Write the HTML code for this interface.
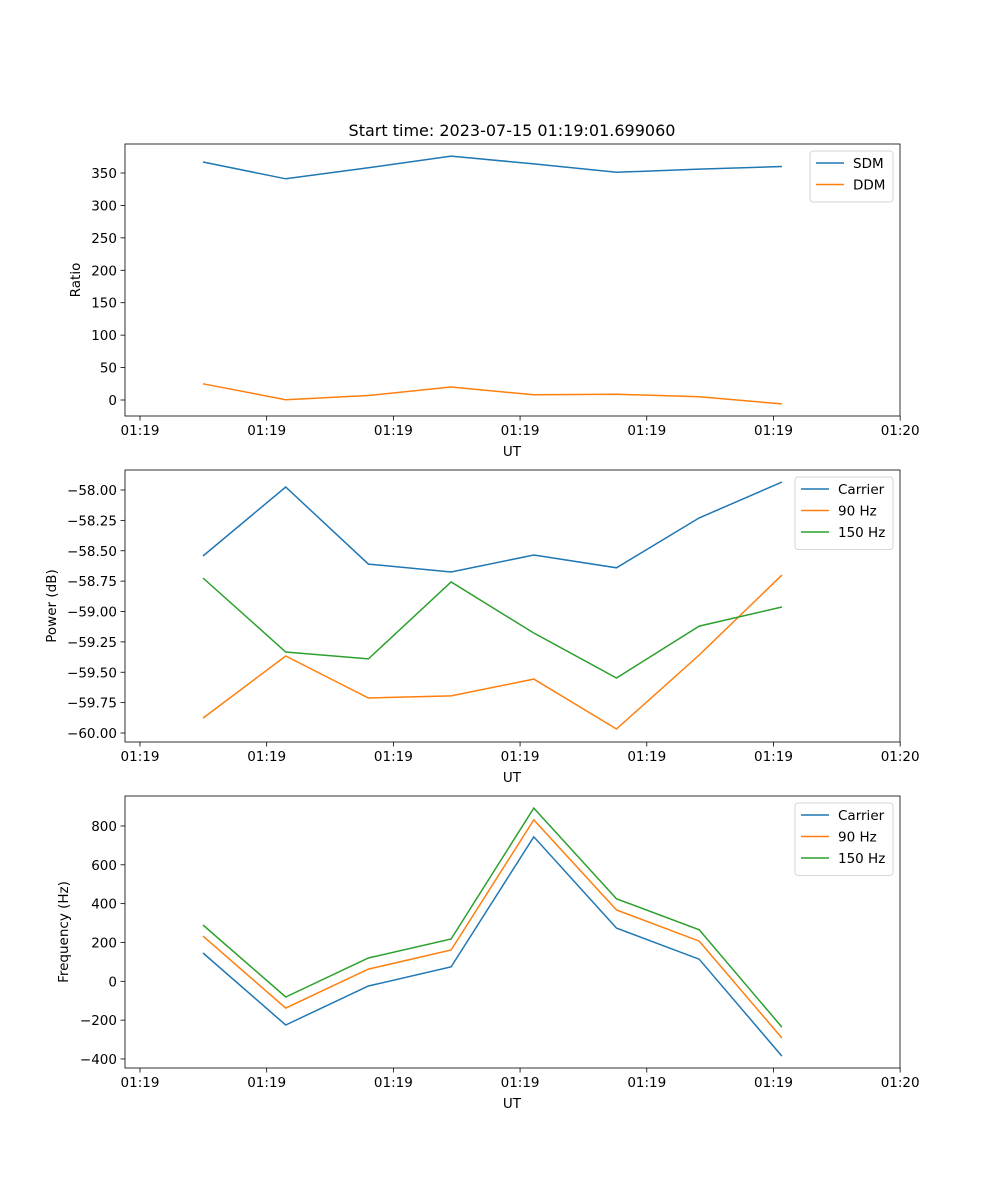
<!DOCTYPE html>
<html><head><meta charset="utf-8"><style>
html,body{margin:0;padding:0;background:#fff}
svg{display:block;font-family:"DejaVu Sans","Liberation Sans",sans-serif}
</style></head><body>
<svg id="fig" width="1000" height="1200" viewBox="0 0 1000 1200" xmlns="http://www.w3.org/2000/svg">
<rect width="1000" height="1200" fill="#fff"/>
<text x="512" y="136" font-size="16" text-anchor="middle">Start time: 2023-07-15 01:19:01.699060</text>
</svg>
<script>
const xIndex = [0,1,2,3,4,5,6,7];
const xTickVals = [-0.762,0.77,2.302,3.834,5.366,6.898,8.43];
const xTickLabels = ["01:19","01:19","01:19","01:19","01:19","01:19","01:20"];
const sdm = [367,341,358,376,364,351,356,360];
const ddm = [25,0.5,7,20,8,9,5,-6];
const ratioTicks = [0,50,100,150,200,250,300,350];
const pCarrier = [-58.543,-57.975,-58.61,-58.675,-58.535,-58.64,-58.23,-57.935];
const p90 = [-59.877,-59.366,-59.712,-59.695,-59.556,-59.967,-59.358,-58.70];
const p150 = [-58.724,-59.333,-59.39,-58.757,-59.177,-59.547,-59.12,-58.963];
const powerTicks = [-60.00,-59.75,-59.50,-59.25,-59.00,-58.75,-58.50,-58.25,-58.00];
const fCarrier = [146,-225,-24,74,744,274,114,-385];
const f90 = [233,-138,63,161,831,367,207,-292];
const f150 = [290,-81,120,218,892,425,265,-236];
const freqTicks = [-400,-200,0,200,400,600,800];

const NS="http://www.w3.org/2000/svg";
const svg=document.getElementById('fig');
const L=125,R=900;
const xs=i=>203+i*82.7;
function mk(tag,attrs,parent){const e=document.createElementNS(NS,tag);for(const k in attrs)e.setAttribute(k,attrs[k]);(parent||svg).appendChild(e);return e;}
const C={blue:"#1f77b4",orange:"#ff7f0e",green:"#2ca02c"};

function panel(name,top,bottom,ys,yTicks,fmt,ylabel,series,legend){
  const g=mk('g',{});
  
  
  // series
  series.forEach(s=>{
    const pts=xIndex.map(i=>xs(i).toFixed(1)+','+ys(s.vals[i]).toFixed(1)).join(' ');
    const p=mk('polyline',{points:pts,fill:'none',stroke:s.color,'stroke-width':1.5},g);
    
    
  });
  const fr=mk('rect',{x:L,y:top,width:R-L,height:bottom-top,fill:'none',stroke:'#000','stroke-width':0.8},g);
  
  
  xTickVals.forEach((v,k)=>{
    const x=xs(v);
    mk('line',{x1:x,x2:x,y1:bottom,y2:bottom+4.5,stroke:'#000','stroke-width':0.8},g);
    const t=mk('text',{x:x,y:bottom+19,'font-size':13.5,'text-anchor':'middle'},g);
    t.textContent=xTickLabels[k];
    
    
  });
  const xl=mk('text',{x:512,y:bottom+40,'font-size':13.5,'text-anchor':'middle'},g);
  xl.textContent='UT';
  
  
  yTicks.forEach(v=>{
    const y=ys(v);
    mk('line',{x1:L-4.5,x2:L,y1:y,y2:y,stroke:'#000','stroke-width':0.8},g);
    const t=mk('text',{x:L-8,y:y+5,'font-size':13.5,'text-anchor':'end'},g);
    t.textContent=fmt(v);
    
    
  });
  const yl=mk('text',{x:0,y:0,'font-size':13.5,'text-anchor':'middle',transform:`translate(${ylabel.x},${(top+bottom)/2}) rotate(-90)`},g);
  yl.textContent=ylabel.text;
  
  
  // legend
  const lg=mk('g',{},g);
  
  
  mk('rect',{x:legend.x,y:top+7,width:legend.w,height:8+series.length*21.5,rx:3,fill:'#fff',stroke:'#ccc','stroke-width':1,opacity:0.8},lg);
  series.forEach((s,k)=>{
    const y=top+19+k*21.5;
    mk('line',{x1:legend.x+6,x2:legend.x+34,y1:y,y2:y,stroke:s.color,'stroke-width':1.5},lg);
    const t=mk('text',{x:legend.x+43,y:y+5,'font-size':13.5},lg);
    t.textContent=s.label;
    
    
  });
}
panel('ratio',144,416,v=>400-v*0.6486,ratioTicks,v=>String(v),{x:80,text:'Ratio'},
  [{key:'sdm',label:'SDM',vals:sdm,color:C.blue},{key:'ddm',label:'DDM',vals:ddm,color:C.orange}],{x:810,w:83});
panel('power',470,742,v=>490-(v+58)*121.5,powerTicks,v=>(v<0?'\u2212':'')+Math.abs(v).toFixed(2),{x:56,text:'Power (dB)'},
  [{key:'carrier',label:'Carrier',vals:pCarrier,color:C.blue},{key:'90hz',label:'90 Hz',vals:p90,color:C.orange},{key:'150hz',label:'150 Hz',vals:p150,color:C.green}],{x:795,w:98});
panel('frequency',796,1068,v=>981.3-v*0.19417,freqTicks,v=>(v<0?'\u2212':'')+Math.abs(v),{x:68,text:'Frequency (Hz)'},
  [{key:'carrier',label:'Carrier',vals:fCarrier,color:C.blue},{key:'90hz',label:'90 Hz',vals:f90,color:C.orange},{key:'150hz',label:'150 Hz',vals:f150,color:C.green}],{x:795,w:98});
</script>
</body></html>
